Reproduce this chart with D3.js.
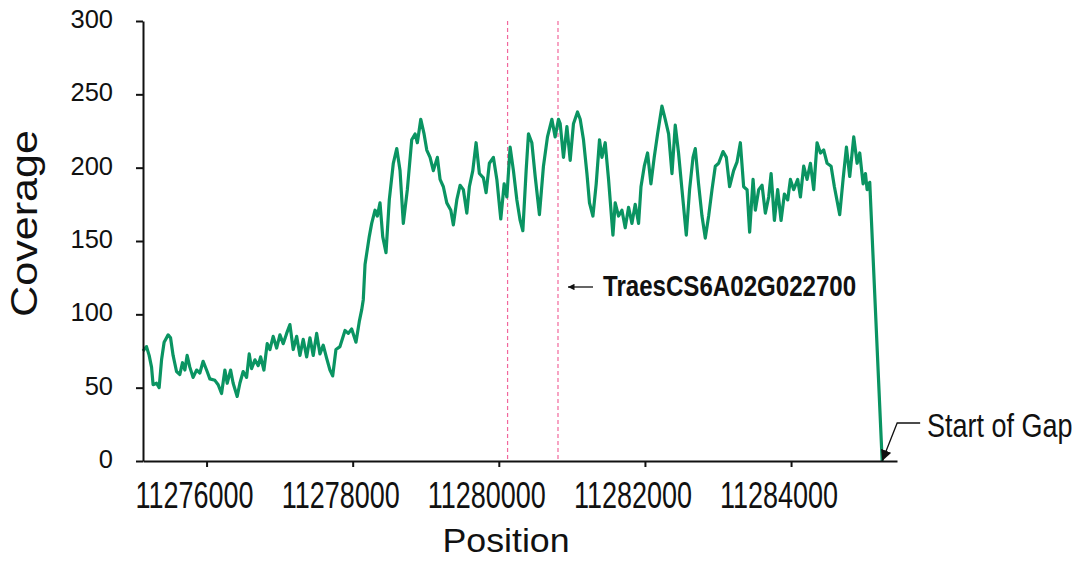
<!DOCTYPE html>
<html>
<head>
<meta charset="utf-8">
<script src="https://cdn.jsdelivr.net/npm/d3@7"></script>
<style>
  html, body { margin: 0; padding: 0; background: #fff; }
  svg { display: block; font-family: "Liberation Sans", Arial, sans-serif; }
</style>
</head>
<body>
<svg id="chart" width="1081" height="562"></svg>
<script>
// Read depth along the genomic window (bp position, coverage)
const positions = [
  11275130, 11275178, 11275214, 11275247, 11275268, 11275315, 11275351, 11275384, 11275419, 11275474,
  11275507, 11275542, 11275589, 11275634, 11275671, 11275703, 11275734, 11275771, 11275816, 11275863,
  11275908, 11275953, 11276008, 11276045, 11276114, 11276159, 11276205, 11276251, 11276282, 11276329,
  11276364, 11276419, 11276456, 11276501, 11276548, 11276584, 11276616, 11276662, 11276707, 11276740,
  11276785, 11276830, 11276867, 11276912, 11276959, 11277004, 11277049, 11277096, 11277141, 11277186,
  11277233, 11277278, 11277323, 11277370, 11277415, 11277460, 11277507, 11277552, 11277597, 11277644,
  11277689, 11277726, 11277771, 11277826, 11277895, 11277940, 11277986, 11278045, 11278090, 11278123,
  11278145, 11278169, 11278227, 11278260, 11278306, 11278337, 11278374, 11278411, 11278456, 11278501,
  11278556, 11278603, 11278648, 11278693, 11278748, 11278808, 11278854, 11278885, 11278932, 11278977,
  11279014, 11279059, 11279104, 11279159, 11279196, 11279241, 11279288, 11279343, 11279378, 11279425,
  11279470, 11279515, 11279562, 11279597, 11279644, 11279689, 11279734, 11279789, 11279826, 11279871,
  11279926, 11279973, 11280027, 11280073, 11280110, 11280155, 11280200, 11280247, 11280292, 11280329,
  11280374, 11280406, 11280452, 11280498, 11280556, 11280611, 11280666, 11280726, 11280771, 11280817,
  11280840, 11280885, 11280932, 11280977, 11281022, 11281077, 11281114, 11281159, 11281206, 11281241,
  11281288, 11281333, 11281378, 11281411, 11281456, 11281502, 11281562, 11281593, 11281639, 11281685,
  11281730, 11281776, 11281822, 11281867, 11281913, 11281946, 11281991, 11282036, 11282082, 11282127,
  11282173, 11282233, 11282278, 11282324, 11282370, 11282415, 11282460, 11282507, 11282566, 11282611,
  11282658, 11282689, 11282734, 11282781, 11282826, 11282872, 11282918, 11282963, 11283009, 11283069,
  11283114, 11283159, 11283214, 11283261, 11283306, 11283351, 11283398, 11283433, 11283480, 11283511,
  11283557, 11283603, 11283648, 11283694, 11283727, 11283772, 11283817, 11283863, 11283909, 11283954,
  11283991, 11284036, 11284091, 11284128, 11284173, 11284219, 11284265, 11284310, 11284356, 11284402,
  11284447, 11284493, 11284548, 11284593, 11284666, 11284712, 11284758, 11284803, 11284858, 11284904,
  11284940, 11284986, 11285018, 11285041, 11285077, 11285247
];
const coverage = [
  75, 78, 72, 64, 52, 53, 50, 69, 81, 86,
  84, 72, 61, 59, 67, 62, 72, 64, 57, 62,
  60, 68, 61, 56, 55, 52, 46, 62, 53, 62,
  53, 44, 53, 61, 57, 73, 63, 69, 65, 71,
  62, 80, 76, 85, 77, 86, 80, 87, 93, 76,
  85, 72, 83, 71, 84, 72, 87, 73, 79, 70,
  62, 58, 76, 78, 89, 87, 90, 81, 95, 103,
  110, 134, 153, 162, 171, 167, 176, 153, 142, 178,
  203, 213, 198, 162, 185, 219, 223, 217, 233, 223,
  212, 207, 198, 207, 192, 187, 176, 171, 161, 178,
  188, 185, 169, 187, 198, 217, 196, 193, 183, 203,
  207, 192, 165, 189, 180, 214, 198, 178, 164, 157,
  198, 223, 217, 194, 168, 201, 221, 233, 221, 233,
  230, 207, 228, 205, 230, 238, 233, 219, 196, 176,
  167, 189, 219, 207, 217, 192, 154, 176, 167, 171,
  159, 173, 162, 175, 162, 187, 201, 210, 189, 207,
  223, 242, 233, 223, 196, 229, 210, 185, 154, 185,
  207, 213, 189, 167, 152, 167, 185, 201, 203, 211,
  207, 187, 198, 204, 217, 187, 185, 156, 192, 171,
  185, 188, 169, 180, 196, 164, 185, 164, 182, 178,
  192, 185, 192, 180, 201, 192, 203, 185, 217, 210,
  212, 203, 201, 187, 168, 192, 214, 194, 221, 203,
  210, 189, 196, 185, 190, 0
];

const xTicks = [11276000, 11278000, 11280000, 11282000, 11284000];
const yTicks = [0, 50, 100, 150, 200, 250, 300];
const xDomain = [11275130, 11285450];
const yDomain = [0, 300];

// Gene model boundaries and annotations
const geneBounds = [11280120, 11280810];
const geneLabel = "TraesCS6A02G022700";
const gapLabel = "Start of Gap";
const gapStart = 11285247;
const xTitle = "Position";
const yTitle = "Coverage";

const svg = d3.select("#chart");

const x = d3.scaleLinear().domain(xDomain).range([143, 897]);
const y = d3.scaleLinear().domain(yDomain).range([461, 21]);

const ink = "#111";
const lineColor = "#0a9462";
const dashColor = "#f2679c";

const defs = svg.append("defs");
function arrowHead(id, size) {
  defs.append("marker")
    .attr("id", id)
    .attr("viewBox", "0 0 10 10")
    .attr("refX", 10).attr("refY", 5)
    .attr("markerWidth", size).attr("markerHeight", size)
    .attr("markerUnits", "userSpaceOnUse")
    .attr("orient", "auto")
    .append("path").attr("d", "M0,0 L10,5 L0,10 Z").attr("fill", ink);
}
arrowHead("head", 6.5);
arrowHead("bighead", 11);

// Gene boundary guides
svg.append("g").selectAll("line")
  .data(geneBounds)
  .join("line")
  .attr("x1", d => x(d)).attr("x2", d => x(d))
  .attr("y1", y(300)).attr("y2", y(0))
  .attr("stroke", dashColor)
  .attr("stroke-width", 1.2)
  .attr("stroke-dasharray", "4,3");

// Coverage trace
const pts = positions.map((p, i) => [p, coverage[i]]);
svg.append("path")
  .datum(pts)
  .attr("fill", "none")
  .attr("stroke", lineColor)
  .attr("stroke-width", 3.2)
  .attr("stroke-linejoin", "round")
  .attr("d", d3.line().x(d => x(d[0])).y(d => y(d[1])));

// Y axis
const yAxis = svg.append("g")
  .attr("transform", `translate(${x(xDomain[0])},0)`)
  .call(d3.axisLeft(y).tickValues(yTicks).tickSize(7).tickSizeOuter(0).tickPadding(23));
yAxis.select(".domain").attr("stroke", ink).attr("stroke-width", 2);
yAxis.selectAll(".tick line").attr("stroke", ink).attr("stroke-width", 2);
yAxis.selectAll(".tick text")
  .attr("dy", null).attr("y", 6.5)
  .attr("fill", ink)
  .style("font-size", "25.5px");

// X axis
const xAxis = svg.append("g")
  .attr("transform", `translate(0,${y(0)})`)
  .call(d3.axisBottom(x).tickValues(xTicks).tickFormat(d3.format("d")).tickSize(6).tickSizeOuter(0));
xAxis.select(".domain").attr("stroke", ink).attr("stroke-width", 2);
xAxis.selectAll(".tick line").attr("stroke", ink).attr("stroke-width", 2);
xAxis.selectAll(".tick text")
  .attr("dy", null).attr("y", 0).attr("dx", null)
  .attr("transform", "translate(-12.5,47) scale(1,1.35)")
  .attr("fill", ink)
  .style("font-size", "27px");

// Axis titles
svg.append("text")
  .attr("transform", "translate(506,552) scale(1.1,1)")
  .attr("text-anchor", "middle")
  .attr("fill", ink)
  .style("font-size", "32.5px")
  .text(xTitle);

svg.append("text")
  .attr("transform", "translate(37,223.5) rotate(-90) scale(1.15,1)")
  .attr("text-anchor", "middle")
  .attr("fill", ink)
  .style("font-size", "37.5px")
  .text(yTitle);

// Gene annotation
svg.append("line")
  .attr("x1", 593).attr("y1", 287).attr("x2", 568).attr("y2", 287)
  .attr("stroke", ink).attr("stroke-width", 1.3)
  .attr("marker-end", "url(#head)");
svg.append("text")
  .attr("transform", "translate(603,296) scale(1,1.22)")
  .attr("fill", ink)
  .style("font-size", "24.1px").style("font-weight", "bold")
  .text(geneLabel);

// Gap annotation
const gx = x(gapStart);
svg.append("path")
  .attr("d", `M${gx + 38},423 H${gx + 15} L${gx},${y(0)}`)
  .attr("fill", "none")
  .attr("stroke", ink).attr("stroke-width", 1.3)
  .attr("marker-end", "url(#bighead)");
svg.append("text")
  .attr("transform", "translate(927,437) scale(1,1.2)")
  .attr("fill", ink)
  .style("font-size", "27px")
  .text(gapLabel);
</script>
</body>
</html>
